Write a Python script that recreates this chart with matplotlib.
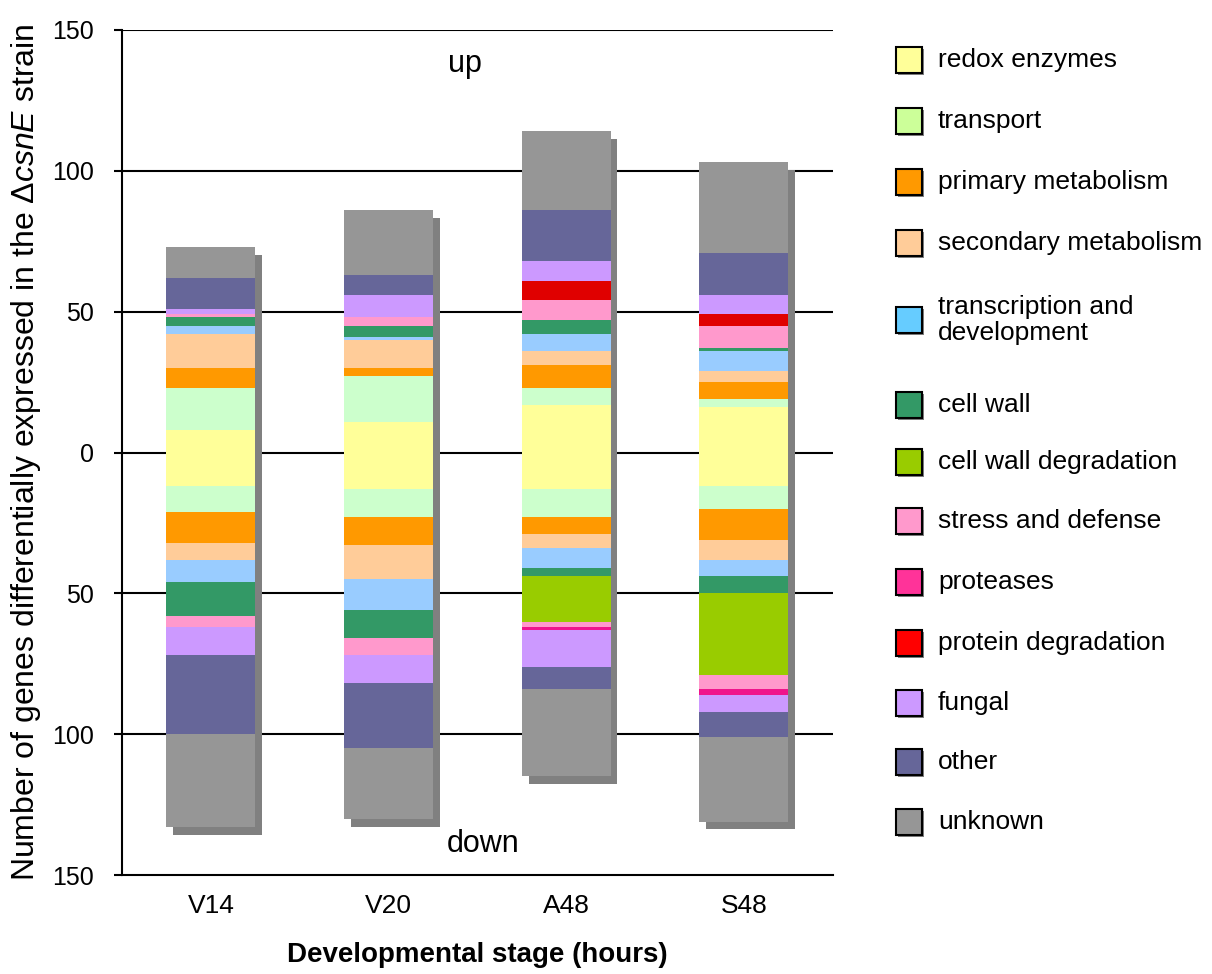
import matplotlib
matplotlib.use("Agg")
import matplotlib.pyplot as plt
from matplotlib.patches import Rectangle
from matplotlib.ticker import FuncFormatter

plt.rcParams['font.family'] = ['Liberation Sans', 'DejaVu Sans']
plt.rcParams['mathtext.fontset'] = 'custom'
plt.rcParams['mathtext.rm'] = 'Liberation Sans'
plt.rcParams['mathtext.it'] = 'Liberation Sans:italic'

# developmental stages
stages = ["V14", "V20", "A48", "S48"]

# functional categories (stacking order, from zero outwards)
categories = ["redox enzymes", "transport", "primary metabolism", "secondary metabolism",
              "transcription and\ndevelopment", "cell wall", "cell wall degradation",
              "stress and defense", "proteases", "protein degradation", "fungal",
              "other", "unknown"]
colors = ["#FFFF99", "#CCFFCC", "#FF9900", "#FFCC99", "#99CCFF", "#339966", "#99CC00",
          "#FF99CC", "#F0148C", "#E00000", "#CC99FF", "#666699", "#969696"]
legend_colors = ["#FFFF99", "#CCFF99", "#FF9900", "#FFCC99", "#66CCFF", "#339966", "#99CC00",
                 "#FF99CC", "#FF3399", "#FF0000", "#CC99FF", "#666699", "#969696"]

# up-regulated gene counts per category, one list per stage
up_V14 = [8, 15, 7, 12, 3, 3, 0, 1, 0, 0, 2, 11, 11]
up_V20 = [11, 16, 3, 10, 1, 4, 0, 3, 0, 0, 8, 7, 23]
up_A48 = [17, 6, 8, 5, 6, 5, 0, 7, 0, 7, 7, 18, 28]
up_S48 = [16, 3, 6, 4, 7, 1, 0, 8, 0, 4, 7, 15, 32]

# down-regulated gene counts per category
down_V14 = [12, 9, 11, 6, 8, 12, 0, 4, 0, 0, 10, 28, 33]
down_V20 = [13, 10, 10, 12, 11, 10, 0, 6, 0, 0, 10, 23, 25]
down_A48 = [13, 10, 6, 5, 7, 3, 16, 2, 1, 0, 13, 8, 31]
down_S48 = [12, 8, 11, 7, 6, 6, 29, 5, 2, 0, 6, 9, 30]

up = [up_V14, up_V20, up_A48, up_S48]
down = [down_V14, down_V20, down_A48, down_S48]

yticks = [-150, -100, -50, 0, 50, 100, 150]

fig = plt.figure(figsize=(12.12, 9.74), dpi=100)
ax = fig.add_axes([0.1007, 0.1016, 0.5863, 0.8676])

width = 0.5
for i, stage in enumerate(stages):
    top = sum(up[i])
    bot = -sum(down[i])
    # drop shadow behind each bar
    ax.bar(i + 0.038, top - bot, width, bottom=bot - 2.8, color="#808080", zorder=2)
    base = 0
    for val, col in zip(up[i], colors):
        if val:
            ax.bar(i, val, width, bottom=base, color=col, zorder=3)
        base += val
    base = 0
    for val, col in zip(down[i], colors):
        if val:
            ax.bar(i, -val, width, bottom=base, color=col, zorder=3)
        base -= val

ax.set_xlim(-0.5, 3.5)
ax.set_ylim(-150, 150)
ax.set_xticks(range(len(stages)))
ax.set_xticklabels(stages, fontsize=19)
ax.set_yticks(yticks)
ax.yaxis.set_major_formatter(FuncFormatter(lambda v, p: f"{abs(int(v))}"))
ax.tick_params(axis='y', labelsize=18, length=6, width=1.5, pad=14)
ax.tick_params(axis='x', length=0, pad=14)
for y in yticks[1:]:
    ax.axhline(y, color='black', lw=1.5, zorder=1)
for s in ['top', 'right']:
    ax.spines[s].set_visible(False)
for s in ['left', 'bottom']:
    ax.spines[s].set_linewidth(1.5)

ax.text(1.43, 138, "up", fontsize=22, ha='center', va='center')
ax.text(1.53, -139, "down", fontsize=22, ha='center', va='center')

fig.text(477 / 1212, 1 - 955 / 974, "Developmental stage (hours)", fontsize=20,
         fontweight='bold', ha='center', va='center')
fig.text(26 / 1212, 1 - 452 / 974,
         r"Number of genes differentially expressed in the $\mathit{ΔcsnE}$ strain",
         fontsize=23, rotation=90, ha='center', va='center')

# legend drawn by hand (one entry spans two lines)
legend_y = [60, 121, 182, 243, 320, 405, 462, 521, 582, 643, 703, 762, 822]
sw, sh = 26 / 1212, 26 / 974
for lab, col, ypx in zip(categories, legend_colors, legend_y):
    yc = 1 - ypx / 974
    fig.patches.append(Rectangle((898 / 1212, yc - sh / 2 - 2 / 974), sw, sh,
                                 transform=fig.transFigure, facecolor="#808080",
                                 edgecolor='none'))
    fig.patches.append(Rectangle((896 / 1212, yc - sh / 2), sw, sh,
                                 transform=fig.transFigure, facecolor=col,
                                 edgecolor='black', lw=1.5))
    fig.text(938 / 1212, yc, lab, fontsize=19, ha='left', va='center', linespacing=1.15)

fig.savefig("out.png", dpi=100)
